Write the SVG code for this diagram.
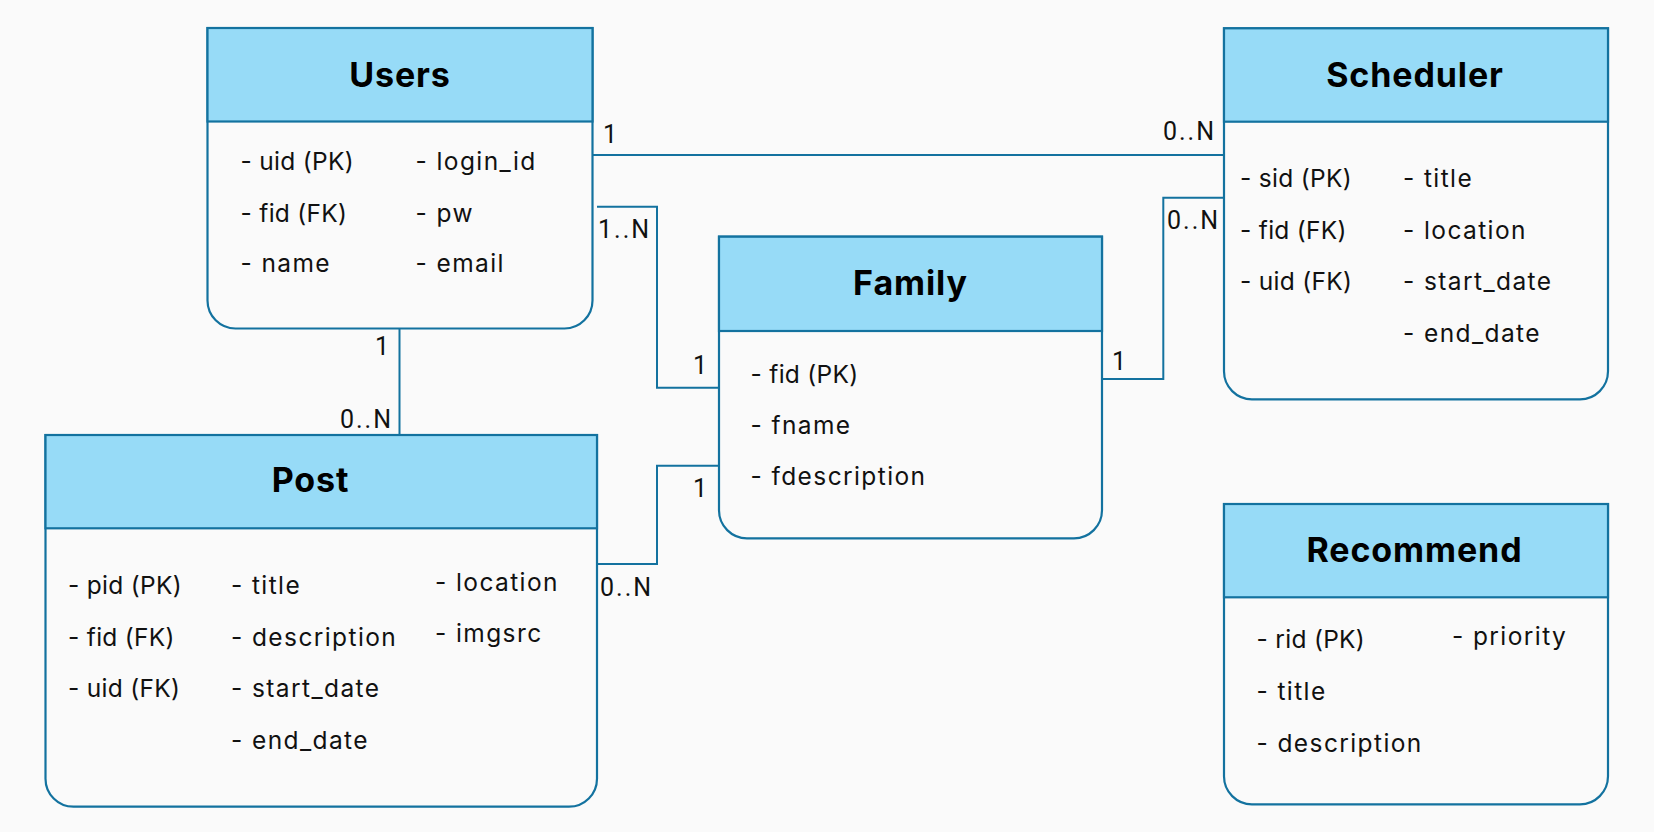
<svg xmlns="http://www.w3.org/2000/svg" width="1654" height="832" viewBox="0 0 1654 832">
<style>
.body{fill:#FAFAFA;stroke:#13729F;stroke-width:2.2}
.head{fill:#97DBF7;stroke:#13729F;stroke-width:2.2}
.title{font-family:Inter,"Liberation Sans",sans-serif;font-weight:700;font-size:34px;letter-spacing:0.9px;fill:#000;text-anchor:middle}
.f{font-family:Inter,"Liberation Sans",sans-serif;font-size:24.5px;letter-spacing:1.4px;fill:#111}
.k{letter-spacing:0.3px}
.lbl{font-family:Roboto,"Liberation Sans",sans-serif;font-size:25px;letter-spacing:2px;fill:#111}
.end{text-anchor:end}
.conn{fill:none;stroke:#13729F;stroke-width:2}
</style>
<rect width="1654" height="832" fill="#FAFAFA"/>
<g id="connectors">
<path class="conn" d="M592.5,155 H1224"/>
<path class="conn" d="M597,206.7 H657 V387.7 H719"/>
<path class="conn" d="M719,465.7 H657 V564 H597"/>
<path class="conn" d="M1102,379 H1163.3 V197.7 H1224"/>
<path class="conn" d="M399.5,328.5 V435"/>
<text class="lbl" x="603" y="143">1</text>
<text class="lbl end" x="1216" y="140">0..N</text>
<text class="lbl" x="598" y="238">1..N</text>
<text class="lbl end" x="709" y="374">1</text>
<text class="lbl end" x="709" y="497">1</text>
<text class="lbl" x="600" y="596">0..N</text>
<text class="lbl" x="1112" y="370">1</text>
<text class="lbl" x="1167" y="229">0..N</text>
<text class="lbl end" x="391" y="355">1</text>
<text class="lbl end" x="393" y="428">0..N</text>
</g>
<g id="users">
<path class="body" d="M207.5,28 H592.5 V300.5 A28,28 0 0 1 564.5,328.5 H235.5 A28,28 0 0 1 207.5,300.5 Z"/>
<rect class="head" x="207.5" y="28" width="385" height="93.5"/>
<text class="title" x="400" y="87">Users</text>
<text class="f k" x="240.5" y="170">- uid (PK)</text>
<text class="f k" x="240.5" y="221.7">- fid (FK)</text>
<text class="f" x="240.5" y="272.3">- name</text>
<text class="f" x="415.5" y="170">- login_id</text>
<text class="f" x="415.5" y="221.7">- pw</text>
<text class="f" x="415.5" y="272.3">- email</text>
</g>
<g id="scheduler">
<path class="body" d="M1224,28.3 H1608 V371.3 A28,28 0 0 1 1580,399.3 H1252 A28,28 0 0 1 1224,371.3 Z"/>
<rect class="head" x="1224" y="28.3" width="384" height="93.4"/>
<text class="title" x="1415" y="87">Scheduler</text>
<text class="f k" x="1240" y="186.7">- sid (PK)</text>
<text class="f k" x="1240" y="238.5">- fid (FK)</text>
<text class="f k" x="1240" y="290">- uid (FK)</text>
<text class="f" x="1403" y="186.7">- title</text>
<text class="f" x="1403" y="238.5">- location</text>
<text class="f" x="1403" y="290">- start_date</text>
<text class="f" x="1403" y="341.7">- end_date</text>
</g>
<g id="family">
<path class="body" d="M719,236.7 H1102 V510.3 A28,28 0 0 1 1074,538.3 H747 A28,28 0 0 1 719,510.3 Z"/>
<rect class="head" x="719" y="236.7" width="383" height="94.3"/>
<text class="title" x="910.5" y="295">Family</text>
<text class="f k" x="750.5" y="382.7">- fid (PK)</text>
<text class="f" x="750.5" y="434.3">- fname</text>
<text class="f" x="750.5" y="485">- fdescription</text>
</g>
<g id="post">
<path class="body" d="M45.5,435 H597 V778.7 A28,28 0 0 1 569,806.7 H73.5 A28,28 0 0 1 45.5,778.7 Z"/>
<rect class="head" x="45.5" y="435" width="551.5" height="93.3"/>
<text class="title" x="310.5" y="492.3">Post</text>
<text class="f k" x="68" y="594">- pid (PK)</text>
<text class="f k" x="68" y="645.7">- fid (FK)</text>
<text class="f k" x="68" y="697.3">- uid (FK)</text>
<text class="f" x="231" y="594">- title</text>
<text class="f" x="231" y="645.7">- description</text>
<text class="f" x="231" y="697.3">- start_date</text>
<text class="f" x="231" y="749.3">- end_date</text>
<text class="f" x="435" y="590.7">- location</text>
<text class="f" x="435" y="641.7">- imgsrc</text>
</g>
<g id="recommend">
<path class="body" d="M1224,504 H1608 V776.3 A28,28 0 0 1 1580,804.3 H1252 A28,28 0 0 1 1224,776.3 Z"/>
<rect class="head" x="1224" y="504" width="384" height="93.3"/>
<text class="title" x="1414.5" y="561.7">Recommend</text>
<text class="f k" x="1256.5" y="648.3">- rid (PK)</text>
<text class="f" x="1256.5" y="700">- title</text>
<text class="f" x="1256.5" y="751.7">- description</text>
<text class="f" x="1452" y="645">- priority</text>
</g>
</svg>
